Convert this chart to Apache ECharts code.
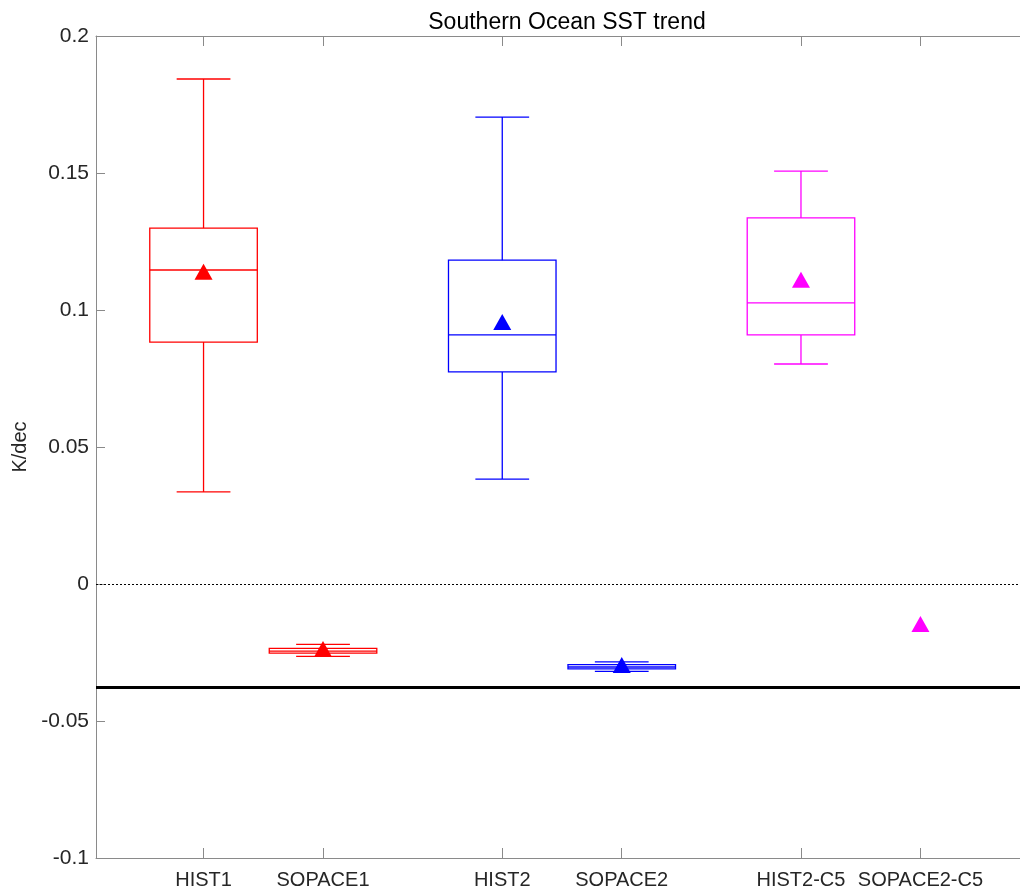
<!DOCTYPE html>
<html>
<head>
<meta charset="utf-8">
<title>Southern Ocean SST trend</title>
<script src="https://cdn.jsdelivr.net/npm/echarts@6/dist/echarts.min.js"></script>
<style>
  html, body { margin: 0; padding: 0; background: #fff; }
  #chart { width: 1020px; height: 896px; }
</style>
</head>
<body>
<div id="chart"></div>
<script>
// experiment names and their x positions
const categories = ["HIST1", "SOPACE1", "HIST2", "SOPACE2", "HIST2-C5", "SOPACE2-C5"];
const positions = [1, 2, 3.5, 4.5, 6, 7];
const colors = ["#ff0000", "#ff0000", "#0000ff", "#0000ff", "#ff00ff", "#ff00ff"];

// box stats (K/dec): lower whisker, q1, median, q3, upper whisker
const whiskerLow = [0.0336, -0.0264, 0.0383, -0.0319, 0.0803, null];
const q1 = [0.0883, -0.0252, 0.0774, -0.0310, 0.0909, null];
const median = [0.1146, -0.0245, 0.0909, -0.0303, 0.1026, null];
const q3 = [0.1299, -0.0235, 0.1182, -0.0294, 0.1336, null];
const whiskerHigh = [0.1843, -0.0220, 0.1704, -0.0284, 0.1507, null];
// ensemble means (triangles)
const means = [0.1140, -0.0237, 0.0956, -0.0296, 0.1110, -0.0146];

const zeroLine = 0;
const obsLine = -0.0376;
const yTicks = [0.2, 0.15, 0.1, 0.05, 0, -0.05, -0.1];

const boxData = [];
const meanData = [];
categories.forEach((name, i) => {
  if (q1[i] !== null) {
    boxData.push({
      value: [positions[i], whiskerLow[i], q1[i], median[i], q3[i], whiskerHigh[i]],
      itemStyle: { color: colors[i] }
    });
  }
  meanData.push({ value: [positions[i], means[i]], itemStyle: { color: colors[i], opacity: 1 } });
});

const labelFont = "'Liberation Sans', Arial, sans-serif";
const axisGray = "#8a8a8a";

const renderBox = (params, api) => {
  const x = api.value(0);
  const color = api.visual("color");
  const boxW = api.size([0.9, 0])[0];
  const capW = api.size([0.45, 0])[0];
  const pLow = api.coord([x, api.value(1)]);
  const pQ1 = api.coord([x, api.value(2)]);
  const pMed = api.coord([x, api.value(3)]);
  const pQ3 = api.coord([x, api.value(4)]);
  const pHigh = api.coord([x, api.value(5)]);
  const cx = pQ1[0];
  const style = { stroke: color, lineWidth: 1.3, fill: null };
  const line = (x1, y1, x2, y2) => ({
    type: "line",
    shape: { x1, y1, x2, y2 },
    style
  });
  return {
    type: "group",
    children: [
      line(cx, pHigh[1], cx, pQ3[1]),
      line(cx, pQ1[1], cx, pLow[1]),
      line(cx - capW / 2, pHigh[1], cx + capW / 2, pHigh[1]),
      line(cx - capW / 2, pLow[1], cx + capW / 2, pLow[1]),
      {
        type: "rect",
        shape: { x: cx - boxW / 2, y: pQ3[1], width: boxW, height: pQ1[1] - pQ3[1] },
        style
      },
      line(cx - boxW / 2, pMed[1], cx + boxW / 2, pMed[1])
    ]
  };
};

const xAxisBase = (pos) => ({
  type: "value",
  min: 0.1,
  max: 7.833,
  position: pos,
  splitLine: { show: false },
  axisLine: { show: true, onZero: false, lineStyle: { color: axisGray, width: 1 } },
  axisTick: {
    show: true,
    inside: true,
    length: 10,
    customValues: positions,
    lineStyle: { color: axisGray }
  }
});

const chart = echarts.init(document.getElementById("chart"));
chart.setOption({
  animation: false,
  backgroundColor: "#fff",
  title: {
    text: "Southern Ocean SST trend",
    left: 562,
    top: 6,
    textAlign: "center",
    textStyle: { fontFamily: labelFont, fontSize: 23, fontWeight: "normal", color: "#000" }
  },
  grid: { left: 96, right: 0, top: 36, bottom: 38 },
  xAxis: [
    Object.assign(xAxisBase("bottom"), {
      axisLabel: {
        customValues: positions,
        margin: 12,
        fontFamily: labelFont,
        fontSize: 20,
        color: "#262626",
        formatter: (v) => categories[positions.indexOf(v)] || ""
      }
    }),
    Object.assign(xAxisBase("top"), { axisLabel: { show: false } })
  ],
  yAxis: {
    type: "value",
    min: -0.1,
    max: 0.2,
    interval: 0.05,
    name: "K/dec",
    nameLocation: "middle",
    nameRotate: 90,
    nameGap: 56,
    nameTextStyle: { fontFamily: labelFont, fontSize: 20, color: "#262626" },
    splitLine: { show: false },
    axisLine: { show: true, onZero: false, lineStyle: { color: axisGray, width: 1 } },
    axisTick: { show: true, inside: true, length: 9, lineStyle: { color: axisGray } },
    axisLabel: {
      margin: 7,
      fontFamily: labelFont,
      fontSize: 21,
      color: "#262626",
      formatter: (v) => {
        const r = Math.round(v * 100) / 100;
        return yTicks.includes(r) ? String(r) : "";
      }
    }
  },
  series: [
    {
      type: "custom",
      name: "boxes",
      xAxisIndex: 0,
      renderItem: renderBox,
      encode: { x: 0, y: [1, 2, 3, 4, 5] },
      data: boxData,
      z: 3
    },
    {
      type: "scatter",
      name: "mean",
      xAxisIndex: 0,
      symbol: "triangle",
      symbolSize: [18, 16],
      data: meanData,
      z: 4,
      markLine: {
        silent: true,
        symbol: "none",
        precision: 4,
        label: { show: false },
        z: 2,
        data: [
          { yAxis: zeroLine, lineStyle: { color: "#000", width: 1, type: [2, 2] } },
          { yAxis: obsLine, lineStyle: { color: "#000", width: 3, type: "solid" } }
        ]
      }
    }
  ]
});
</script>
</body>
</html>
